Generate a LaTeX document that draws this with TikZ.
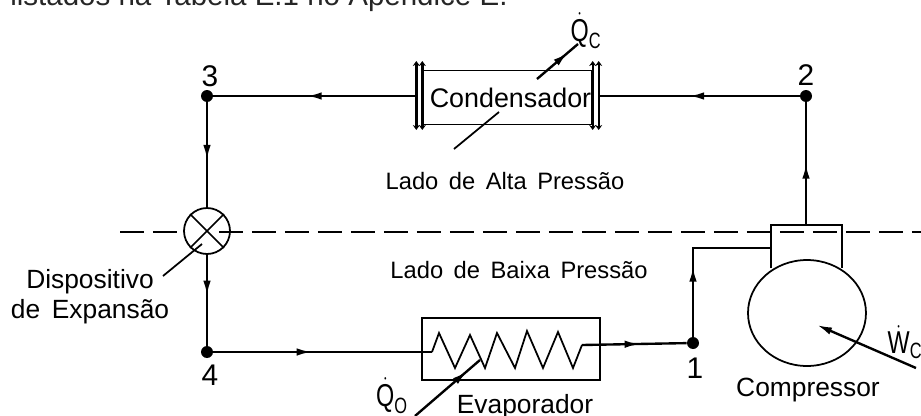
\documentclass[tikz,border=0pt]{standalone}
\usepackage{amsmath}
\usepackage{fontspec}
\setmainfont{Liberation Sans}
\usetikzlibrary{arrows.meta,decorations.markings,shapes.geometric}
\newcommand{\estreito}[1]{\scalebox{0.74}[1]{#1}}
\tikzset{
  linha/.style={line width=1.35pt},
  fina/.style={line width=1pt},
  ponto/.style={circle, fill=black, inner sep=0pt, minimum size=0.24cm},
  seta/.style={postaction={decorate}, decoration={markings,
    mark=at position #1 with {\arrow{Latex[length=0.3cm,width=0.15cm]}}}},
  flange/.style={line width=1.35pt, {Stealth[length=0.1cm,width=0.14cm]}-{Stealth[length=0.1cm,width=0.14cm]}},
  rotulo/.style={font=\fontsize{13.5}{15}\selectfont, inner sep=0pt},
  maior/.style={font=\fontsize{15}{17}\selectfont, inner sep=0pt},
  numero/.style={font=\fontsize{17}{19}\selectfont, inner sep=0pt},
  calor/.style={font=\fontsize{18}{20}\selectfont, inner sep=0pt},
  tracejada/.style={line width=0.8pt, dash pattern=on 0.48cm off 0.18cm},
}

\begin{document}
\begin{tikzpicture}[x=0.02cm, y=-0.02cm]
  \useasboundingbox (0,0) rectangle (921,416);

  \node[anchor=base west, inner sep=0pt, font=\fontsize{16.8}{19}\selectfont, text=black!85] (frase) at (10,5) {listados na Tabela E.1 no Apêndice E.};

  % pontos do ciclo
  \node[ponto] (p3) at (207,96) {};
  \node[ponto] (p2) at (806,96) {};
  \node[ponto] (p4) at (207,352) {};
  \node[ponto] (p1) at (693,343) {};
  \node[numero] (n3) at (210,76) {3};
  \node[numero] (n2) at (806,75) {2};
  \node[numero] (n4) at (210,375) {4};
  \node[numero] (n1) at (695,368) {1};

  \draw[tracejada] (120,232) -- (180,232);
  \draw[tracejada] (219,232) -- (921,232);

  % condensador
  \node[draw, line width=0.8pt, minimum width=3.38cm, minimum height=1.07cm, inner sep=0pt, font=\fontsize{15.3}{17}\selectfont] (cond) at (507.5,97.5) {\hspace{0.12cm}Condensador};
  \coordinate (flE) at ([xshift=-0.12cm]cond.west);
  \coordinate (flD) at ([xshift=0.12cm]cond.east);
  \draw[flange] (flE |- 0,61) -- (flE |- 0,130);
  \draw[flange] (cond.west |- 0,61) -- (cond.west |- 0,130);
  \draw[flange] (flD |- 0,61) -- (flD |- 0,130);
  \draw[flange] (cond.east |- 0,61) -- (cond.east |- 0,130);
  \draw[linha, seta=0.55] (p2) -- (p2 -| flD);
  \draw[linha, seta=0.54] (p3 -| flE) -- (p3);
  \coordinate (qcA) at (537,79);
  \coordinate (qcB) at (578,44);
  \draw[linha, seta=0.75] (qcA) -- (qcB);
  \node[calor] (qc) at (586,31) {\estreito{$\dot{\text{Q}}_{\text{C}}$}};
  \coordinate (ladoA) at (454,149);
  \coordinate (ladoB) at (499,112);
  \draw[fina] (ladoA) -- (ladoB);
  \node[rotulo] (alta) at (505,181) {Lado\, de\, Alta\, Pressão};

  % dispositivo de expansao
  \node[draw, fina, circle, minimum size=0.92cm, inner sep=0pt] (valv) at (207,231) {};
  \draw[fina] (valv.45) -- (valv.225);
  \draw[fina] (valv.135) -- (valv.315);
  \draw[linha, seta=0.55] (p3) -- (valv);
  \draw[linha, seta=0.45] (valv) -- (p4);
  \node[maior, align=center] (disp) at (90,297) {Dispositivo\\de\, Expansão};
  \coordinate (dispA) at (163,276);
  \draw[fina] (dispA) -- (202,244);
  \node[rotulo] (baixa) at (519,270) {Lado\, de\, Baixa\, Pressão};

  % evaporador
  \node[draw, linha, minimum width=3.56cm, minimum height=1.24cm] (evap) at (511,349) {};
  \coordinate (serpA) at (432,352);
  \coordinate (serpB) at (582,345);
  \draw[linha, seta=0.45] (p4) -- (serpA);
  \draw[fina] (serpA) -- (439,333) -- (455,368) -- (470,335) -- (485,368) -- (497,333) -- (515,368)
    -- (527,331) -- (543,368) -- (558,332) -- (573,368) -- (serpB);
  \draw[linha, seta=0.55] (serpB) -- (p1);
  \coordinate (qoA) at (415,416);
  \coordinate (qoB) at (480,360);
  \draw[linha, seta=0.8] (qoA) -- (qoB);
  \node[calor] (qo) at (392,396) {\estreito{$\dot{\text{Q}}_{\text{O}}$}};
  \node[maior] (nevap) at (525,407) {Evaporador};

  % compressor
  \node[draw, fina, ellipse, minimum width=2.36cm, minimum height=2.12cm, inner sep=0pt] (comp) at (807,313) {};
  \coordinate (cabA) at (771,268);
  \coordinate (cabB) at (842,268);
  \draw[fina] (cabA) -- (771,225) -- (842,225) -- (cabB);
  \draw[linha, seta=0.5] (806,225) -- (p2);
  \draw[linha, seta=0.42] (p1) -- (693,248) -- (771,248);
  \coordinate (wcA) at (916,368);
  \coordinate (wcB) at (817,325);
  \draw[linha, -{Latex[length=0.3cm,width=0.15cm]}] (wcA) -- (wcB);
  \node[calor] (wc) at (905,342) {\estreito{$\dot{\text{W}}_{\text{C}}$}};
  \node[maior] (ncomp) at (808,390) {Compressor};
\end{tikzpicture}
\end{document}
